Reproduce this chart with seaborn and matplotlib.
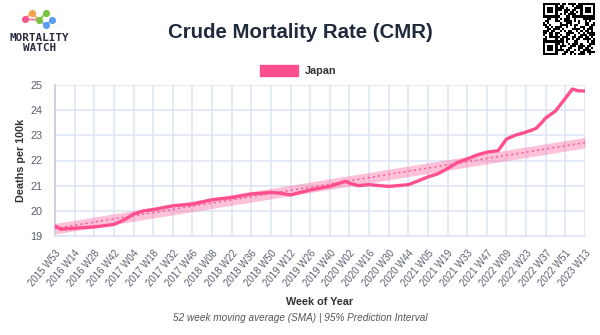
import numpy as np
import pandas as pd
import matplotlib
matplotlib.use("Agg")
import matplotlib.pyplot as plt
import seaborn as sns

# ---------------- data ----------------
tick_labels = ["2015 W53", "2016 W14", "2016 W28", "2016 W42", "2017 W04", "2017 W18",
               "2017 W32", "2017 W46", "2018 W08", "2018 W22", "2018 W36", "2018 W50",
               "2019 W12", "2019 W26", "2019 W40", "2020 W02", "2020 W16", "2020 W30",
               "2020 W44", "2021 W05", "2021 W19", "2021 W33", "2021 W47", "2022 W09",
               "2022 W23", "2022 W37", "2022 W51", "2023 W13"]
tick_weeks = [0, 14, 28, 42, 56, 70, 84, 98, 112, 126, 140, 154, 168, 182, 196, 210,
              224, 238, 252, 266, 280, 294, 308, 322, 336, 350, 364, 378]

# week index counted from 2015 W53
weeks = [0, 4, 14, 28, 42, 49, 56, 63, 70, 84, 98, 112, 126, 140, 154, 161, 168, 182,
         196, 207, 210, 216, 224, 238, 252, 259, 266, 273, 280, 287, 294, 301, 308, 316,
         322, 328, 336, 343, 347, 350, 357, 364, 369, 373, 378]
cmr = [19.40, 19.27, 19.31, 19.36, 19.46, 19.63, 19.87, 20.00, 20.05, 20.20, 20.27,
       20.44, 20.53, 20.67, 20.73, 20.70, 20.63, 20.83, 20.97, 21.17, 21.10, 21.00,
       21.04, 20.97, 21.04, 21.19, 21.35, 21.47, 21.68, 21.92, 22.06, 22.22, 22.33,
       22.39, 22.85, 23.00, 23.13, 23.27, 23.50, 23.69, 23.97, 24.47, 24.84, 24.77,
       24.76]

baseline_weeks = [0, 378]
baseline = [19.30, 22.71]
pi_lower = [19.08, 22.50]
pi_upper = [19.50, 22.92]

series_name = "Japan"

# ---------------- style ----------------
sns.set_theme(style="white")
plt.rcParams["font.family"] = ["Liberation Sans", "DejaVu Sans"]

PINK = "#ff4f8e"
GRID = "#dde3f6"
TEXT = "#5a5f6b"
DARK = "#1f2a3d"

fig = plt.figure(figsize=(6.0, 3.35), dpi=100)
W, H = 600, 335
ax = fig.add_axes([55 / W, 1 - 236 / H, (585 - 55) / W, (236 - 85) / H])

df = pd.DataFrame({"week": weeks, "cmr": cmr})
bl = pd.DataFrame({"week": baseline_weeks, "baseline": baseline,
                   "lo": pi_lower, "hi": pi_upper})

ax.fill_between(bl["week"], bl["lo"], bl["hi"], color=PINK, alpha=0.35,
                linewidth=0, zorder=2)
sns.lineplot(data=bl, x="week", y="baseline", ax=ax, color=PINK, linewidth=1.1,
             linestyle=(0, (1.2, 2.2)), zorder=3, legend=False)
sns.lineplot(data=df, x="week", y="cmr", ax=ax, color=PINK, linewidth=2.4,
             zorder=4, legend=False)

ax.set_xlim(0, 378)
ax.set_ylim(19, 25)
ax.set_xticks(tick_weeks)
ax.set_xticklabels(tick_labels, rotation=50, ha="right", rotation_mode="anchor",
                   fontsize=6.9, color=TEXT)
ax.set_yticks([19, 20, 21, 22, 23, 24, 25])
ax.set_yticklabels(["19", "20", "21", "22", "23", "24", "25"], fontsize=7.8, color=TEXT)
ax.grid(True, color=GRID, linewidth=1.1)
ax.tick_params(axis="both", length=6, color=GRID, width=1.1, pad=3)
for s in ["top", "right"]:
    ax.spines[s].set_visible(False)
ax.spines["left"].set_color("#c8ccd8")
ax.spines["bottom"].set_color(GRID)
ax.spines["bottom"].set_linewidth(1.1)
ax.set_xlabel("Week of Year", fontsize=7.8, fontweight="bold", color="#333333")
ax.set_ylabel("Deaths per 100k", fontsize=7.8, fontweight="bold", color="#333333")
ax.xaxis.set_label_coords((320 - 55) / 530, -(297 - 236) / 151)
ax.yaxis.set_label_coords(-(55 - 26) / 530, 0.5)

# title, legend, caption
fig.text(300 / W, 1 - 32 / H, "Crude Mortality Rate (CMR)", ha="center", va="center",
         fontsize=14.7, fontweight="bold", color=DARK)
fig.patches.append(plt.Rectangle((260 / W, 1 - 76 / H), 38 / W, 11 / H,
                                 transform=fig.transFigure, color=PINK))
fig.text(305 / W, 1 - 70.5 / H, series_name, ha="left", va="center", fontsize=7.8,
         fontweight="bold", color="#333333")
fig.text(300 / W, 1 - 318 / H, "52 week moving average (SMA) | 95% Prediction Interval",
         ha="center", va="center", fontsize=7.2, style="italic", color="#555555")

# logo
lax = fig.add_axes([0, 1 - 56 / H, 80 / W, 56 / H])
lax.set_xlim(0, 80)
lax.set_ylim(56, 0)
lax.axis("off")
pts = [(25, 19, "#f25a8f"), (32, 13, "#f5a04a"), (39, 20, "#7cc242"),
       (46, 13, "#7cc242"), (52, 20, "#5b9cf2"), (46, 25, "#5b9cf2")]
for (a, b, c) in [(0, 1, "#f7b27a"), (1, 2, "#f7b27a"), (2, 3, "#9dd36e"),
                  (2, 5, "#8db8f5"), (4, 5, "#8db8f5"), (0, 2, "#f58ab0")]:
    lax.plot([pts[a][0], pts[b][0]], [pts[a][1], pts[b][1]], color=c,
             linewidth=1.6, zorder=1, solid_capstyle="round")
for (px, py, c) in pts:
    lax.scatter([px], [py], s=26, color=c, zorder=2, linewidths=0)
lax.text(39.5, 38, "MORTALITY", ha="center", va="center", fontsize=7.9,
         fontweight="bold", family="DejaVu Sans Mono", color="#2a2c40")
lax.text(39.5, 48, "WATCH", ha="center", va="center", fontsize=7.9,
         fontweight="bold", family="DejaVu Sans Mono", color="#2a2c40")

# QR-like decoration
qax = fig.add_axes([543 / W, 1 - 55 / H, 52 / W, 52 / H])
n = 25
bits = np.unpackbits(np.frombuffer(("mortality.watch/explorer?c=JPN&t=cmr&ct=weekly_52w_sma"
                                    * 12).encode()[:80], dtype=np.uint8))
grid = bits[: n * n].reshape(n, n).astype(float)
for (r, c) in [(0, 0), (0, n - 7), (n - 7, 0)]:
    grid[r:r + 7, c:c + 7] = 1
    grid[r + 1:r + 6, c + 1:c + 6] = 0
    grid[r + 2:r + 5, c + 2:c + 5] = 1
qax.imshow(grid, cmap="Greys", interpolation="nearest", vmin=0, vmax=1)
qax.axis("off")

fig.savefig("out.png", dpi=100)
